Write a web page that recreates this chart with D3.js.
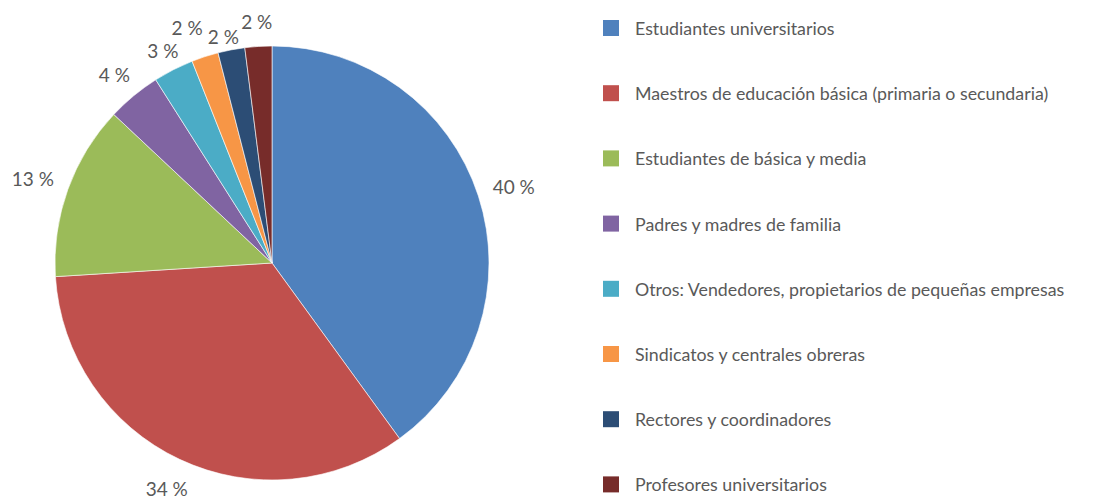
<!DOCTYPE html>
<html>
<head>
<meta charset="utf-8">
<script src="https://cdn.jsdelivr.net/npm/d3@7"></script>
<style>
  body { margin: 0; background: #fff; }
  text { font-family: Lato, "Open Sans", sans-serif; fill: #595959; }
</style>
</head>
<body>
<div id="chart"></div>
<script>
// Data
const categories = [
    "Estudiantes universitarios",
    "Maestros de educación básica (primaria o secundaria)",
    "Estudiantes de básica y media",
    "Padres y madres de familia",
    "Otros: Vendedores, propietarios de pequeñas empresas",
    "Sindicatos y centrales obreras",
    "Rectores y coordinadores",
    "Profesores universitarios"
];
const values = [40, 34, 13, 4, 3, 2, 2, 2];
const colors = ["#4F81BD", "#C0504D", "#9BBB59", "#8064A2", "#4BACC6", "#F79646", "#2C4D75", "#772C2A"];

const width = 1094;
const height = 500;
const cx = 272, cy = 263, radius = 217;

// small labels at the top get staggered so they don't collide (radial px, angle deg)
const labelNudgeR = [0, 0, 0, 0, -5, 8, -8, 4];
const labelNudgeA = [0, 0, 0, 0, 0, -1.7, -1.2, 0];

const svg = d3.select("#chart").append("svg")
    .attr("width", width)
    .attr("height", height);

const data = categories.map((c, i) => ({ name: c, value: values[i], color: colors[i] }));

const pie = d3.pie().value(d => d.value).sort(null);
const arc = d3.arc().innerRadius(0).outerRadius(radius);
const arcs = pie(data);

const g = svg.append("g").attr("transform", `translate(${cx},${cy})`);

// Slices
g.selectAll("path")
    .data(arcs)
    .enter().append("path")
    .attr("d", arc)
    .attr("fill", d => d.data.color)
    .attr("stroke", "#fff")
    .attr("stroke-width", 0.6);

// Outside labels, pushed out so the text box sits just off the rim
const labels = g.selectAll("text.lbl")
    .data(arcs)
    .enter().append("text")
    .attr("class", "lbl")
    .attr("text-anchor", "middle")
    .attr("dominant-baseline", "central")
    .style("font-size", "19px")
    .text(d => d.data.value + " %");

labels.each(function(d, i) {
    const bb = this.getBBox();
    const a = (d.startAngle + d.endAngle) / 2 + labelNudgeA[i] * Math.PI / 180;
    const s = Math.sin(a), c = -Math.cos(a);
    const r = radius + 15 + (bb.width / 2) * Math.abs(s) + 7 * Math.abs(c) + labelNudgeR[i];
    d3.select(this).attr("x", r * s).attr("y", r * c + 2);
});

// Legend
const legend = svg.append("g").attr("transform", "translate(603,28)");
const row = legend.selectAll("g")
    .data(data)
    .enter().append("g")
    .attr("transform", (d, i) => `translate(0,${i * 65.2})`);

row.append("rect")
    .attr("x", 0).attr("y", -8)
    .attr("width", 16).attr("height", 16)
    .attr("fill", d => d.color);

row.append("text")
    .attr("x", 32)
    .attr("dominant-baseline", "central")
    .style("font-size", "17.8px")
    .text(d => d.name);
</script>
</body>
</html>
